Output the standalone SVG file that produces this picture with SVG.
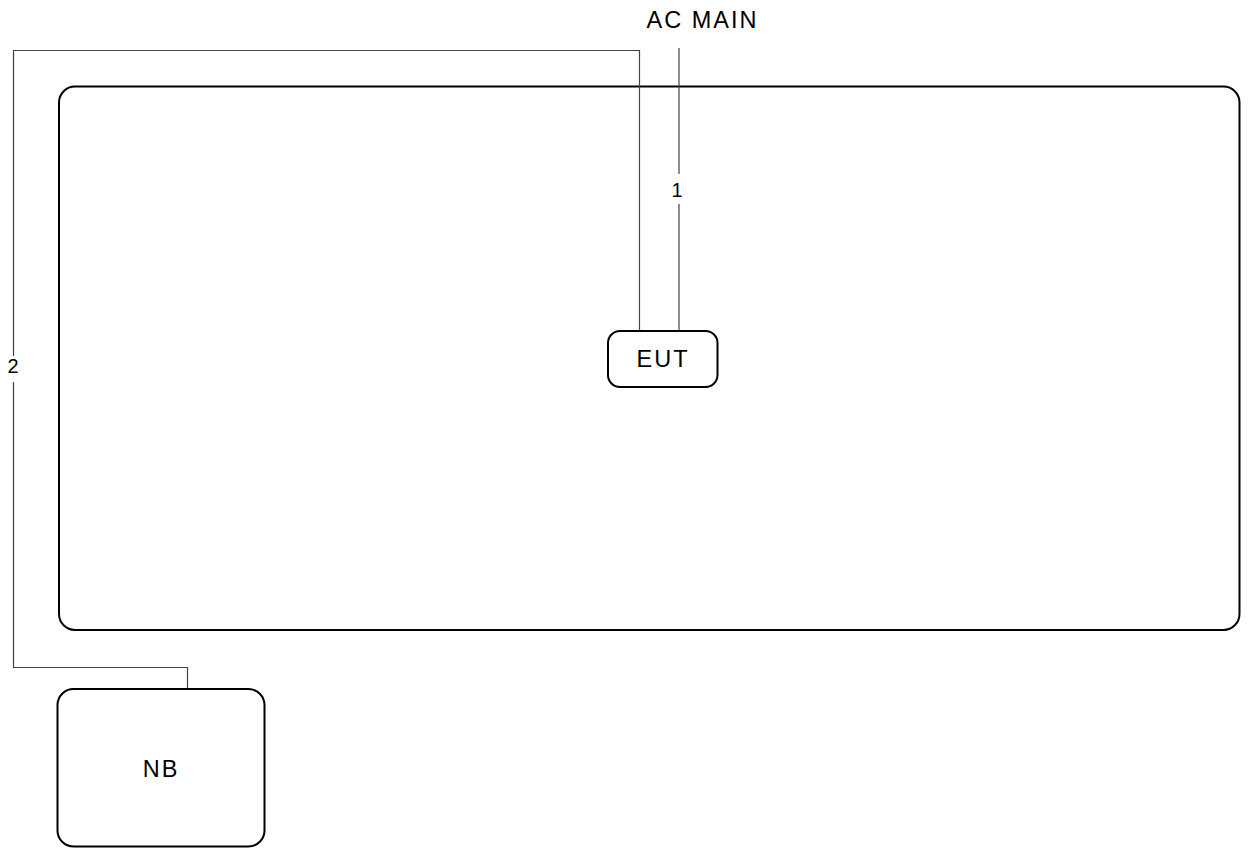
<svg xmlns="http://www.w3.org/2000/svg" width="1248" height="848" viewBox="0 0 1248 848">
<style>
.box{fill:none;stroke:#000;stroke-width:2}
.wire{fill:none;stroke:#444;stroke-width:1.2}
.t{font-family:"Liberation Sans",Arial,sans-serif;font-size:23.5px;letter-spacing:2px;fill:#000;text-anchor:middle}
.n{font-family:"Liberation Sans",Arial,sans-serif;font-size:20px;fill:#000;text-anchor:middle}
</style>
<rect width="1248" height="848" fill="#fff"/>
<g id="table"><rect class="box" x="59" y="86.5" width="1180.5" height="543.5" rx="16" ry="16"/></g>
<g id="connectors">
<polyline class="wire" points="639.5,331 639.5,50.5 13.5,50.5 13.5,667.5 187.5,667.5 187.5,689"/>
<line class="wire" x1="679" y1="48" x2="679" y2="331"/>
<rect x="668" y="174" width="20" height="30" fill="#fff"/>
<text class="n" x="677" y="197">1</text>
<rect x="3" y="356" width="20" height="26" fill="#fff"/>
<text class="n" x="13" y="373">2</text>
</g>
<g id="acmain"><text class="t" x="702.5" y="28">AC MAIN</text></g>
<g id="eut"><rect class="box" x="608" y="331" width="109.5" height="56" rx="12" ry="12" fill="#fff"/><text class="t" x="663" y="367">EUT</text></g>
<g id="nb"><rect class="box" x="57.5" y="689" width="207" height="157.5" rx="16" ry="16" fill="#fff"/><text class="t" x="161" y="777">NB</text></g>
</svg>
